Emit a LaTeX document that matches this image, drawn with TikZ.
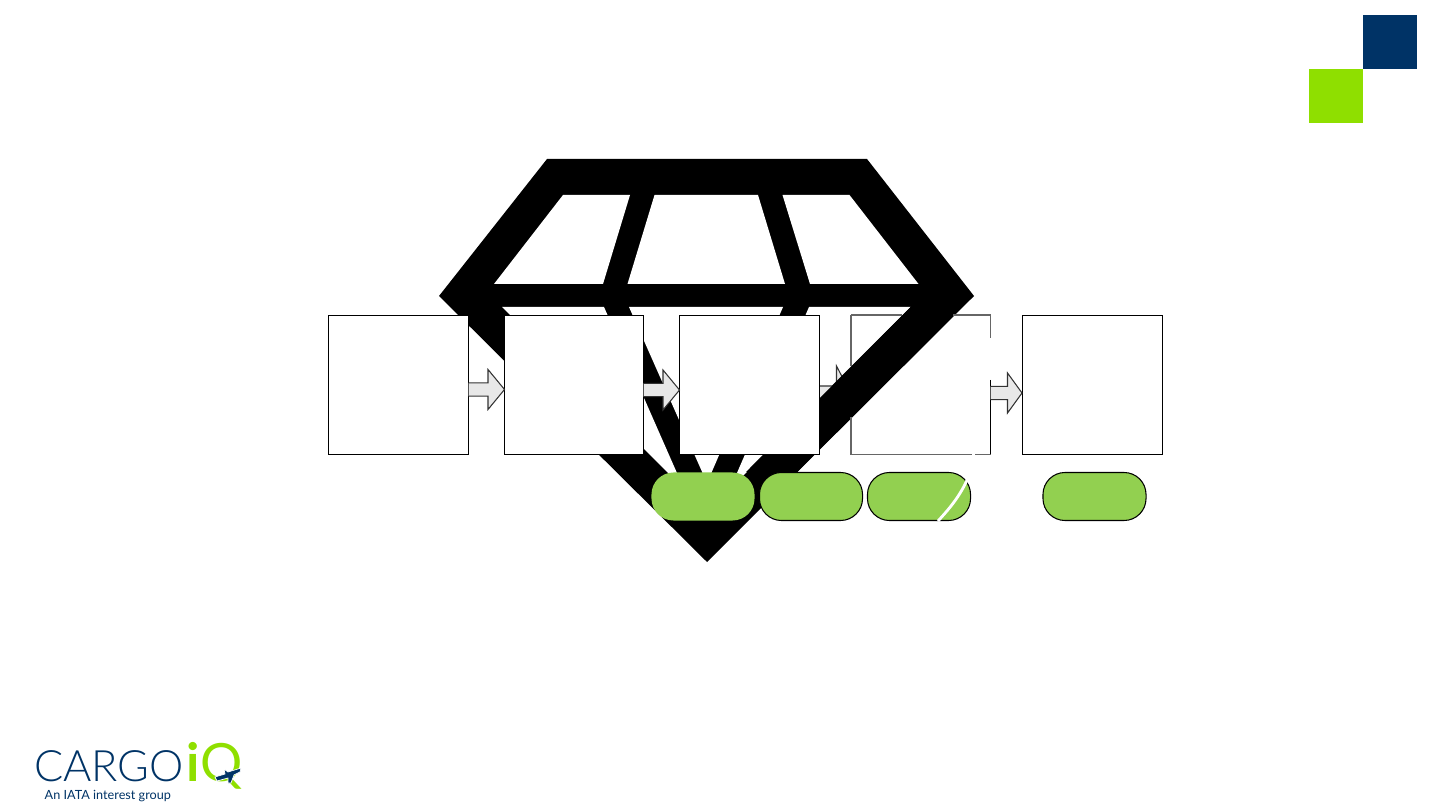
\documentclass[tikz,border=0pt]{standalone}
\usepackage{fontspec}
\setmainfont{Lato}
\newfontfamily\logolight{Lato Light}
\usetikzlibrary{positioning}

\definecolor{navy}{HTML}{003366}
\definecolor{lime}{HTML}{8FDF00}
\definecolor{pillgreen}{HTML}{92D050}
\definecolor{arrowgray}{HTML}{E8E8E8}

\tikzset{
    stagebox/.style={draw=black,fill=white,line width=0.3pt,minimum width=1.4cm,minimum height=1.39cm,inner sep=0pt,outer sep=0pt},
    statuspill/.style={draw=black,fill=pillgreen,line width=0.3pt,rounded corners=0.22cm,minimum width=1.03cm,minimum height=0.48cm,inner sep=0pt,outer sep=0pt},
    flowarrow/.style={draw=black!80,fill=arrowgray,line width=0.3pt},
    facet/.style={fill=white,draw=none},
    fadededge/.style={draw=black!60,line width=0.35pt}
}

\begin{document}
\begin{tikzpicture}[x=0.01cm,y=-0.01cm]
\useasboundingbox (0,0) rectangle (1440,810);

% corner squares
\fill[navy] (1363,15) rectangle (1417,69);
\fill[lime] (1309,69) rectangle (1363,123);

% gem
\fill[black] (547,159) -- (867,159) -- (974,296) -- (707,562) -- (439,296) -- cycle;
\fill[facet] (563,195) -- (630,195) -- (603,284) -- (494,284) -- cycle;
\fill[facet] (654.5,195) -- (758,195) -- (785,284) -- (627.5,284) -- cycle;
\fill[facet] (782.5,195) -- (849.5,195) -- (918.5,284) -- (810,284) -- cycle;
\fill[facet] (502,307) -- (604,307) -- (684,489) -- cycle;
\fill[facet] (629,307) -- (783,307) -- (707,483) -- cycle;
\fill[facet] (910.5,307) -- (809,307) -- (730,489) -- cycle;

% arrow into box four goes under the right edge of the gem
\coordinate (C) at (819.5,393);
\draw[flowarrow] (C) ++(0,-7) -- ++(17,0) -- ++(0,-20) -- ++(14,27) -- ++(-14,27) -- ++(0,-20) -- ++(-17,0);
\fill[black] (910.5,307) -- (961,307) -- (797,472) -- (746,472) -- cycle;

% box four, only the parts the gem leaves
\draw[fadededge] (851,315) -- (902,315);
\draw[fadededge] (953,315) -- (990.5,315) -- (990.5,338);
\draw[fadededge] (851,315) -- (851,366);
\draw[fadededge] (851,417) -- (851,454.5) -- (972,454.5);
\draw[fadededge] (975,454.5) -- (990.5,454.5);
\draw[black,line width=0.3pt] (990.5,380) -- (990.5,454.5);

% boxes
\node[stagebox] (booking) at (398.5,385) {};
\node[stagebox,minimum width=1.39cm] (pickup) at (574,385) {};
\node[stagebox] (terminal) at (749.5,385) {};
\node[stagebox] (delivery) at (1092.5,385) {};

% arrows
\foreach \v/\w in {468.5/389.5, 643.5/390}
{
    \draw[flowarrow] (\v,\w) ++(0,-6.7) -- ++(19.5,0) -- ++(0,-13.3) -- ++(16.5,20) -- ++(-16.5,20) -- ++(0,-13.3) -- ++(-19.5,0);
}
\draw[flowarrow] (990.5,393) ++(0,-6.7) -- ++(17,0) -- ++(0,-13.3) -- ++(14.5,20) -- ++(-14.5,20) -- ++(0,-13.3) -- ++(-17,0);

% pills
\node[statuspill,draw=none] (first) at (703,496.5) {};
\node[statuspill] (second) at (811,496.5) {};
\node[statuspill] (third) at (919,496.5) {};
\node[statuspill] (fourth) at (1094.5,496.5) {};

% white stroke across pill three
\draw[white,line width=0.8pt] (968,478) .. controls (960,496) and (950,508) .. (938,521);

% logo
\node[text=navy,font=\logolight\fontsize{12.3pt}{12.3pt}\selectfont,inner sep=0pt,anchor=base west] (cargo) at (33.5,781) {CARGO};
\node[text=lime,font=\fontsize{15pt}{15pt}\selectfont,inner sep=0pt,anchor=base west] (iq) at (186,781.5) {\textbf{i}Q};
\fill[navy,draw=white,line width=0.2pt] (215,777) -- (225,774) -- (224,769) -- (228,772) -- (241,768) -- (240,772) -- (234,775) -- (231,783) -- (228,783) -- (228,778) -- (217,781) -- cycle;
\node[text=navy,font=\fontsize{3.6pt}{3.6pt}\selectfont,inner sep=0pt,anchor=base west] (tagline) at (44,799.5) {An IATA interest group};

\end{tikzpicture}
\end{document}
